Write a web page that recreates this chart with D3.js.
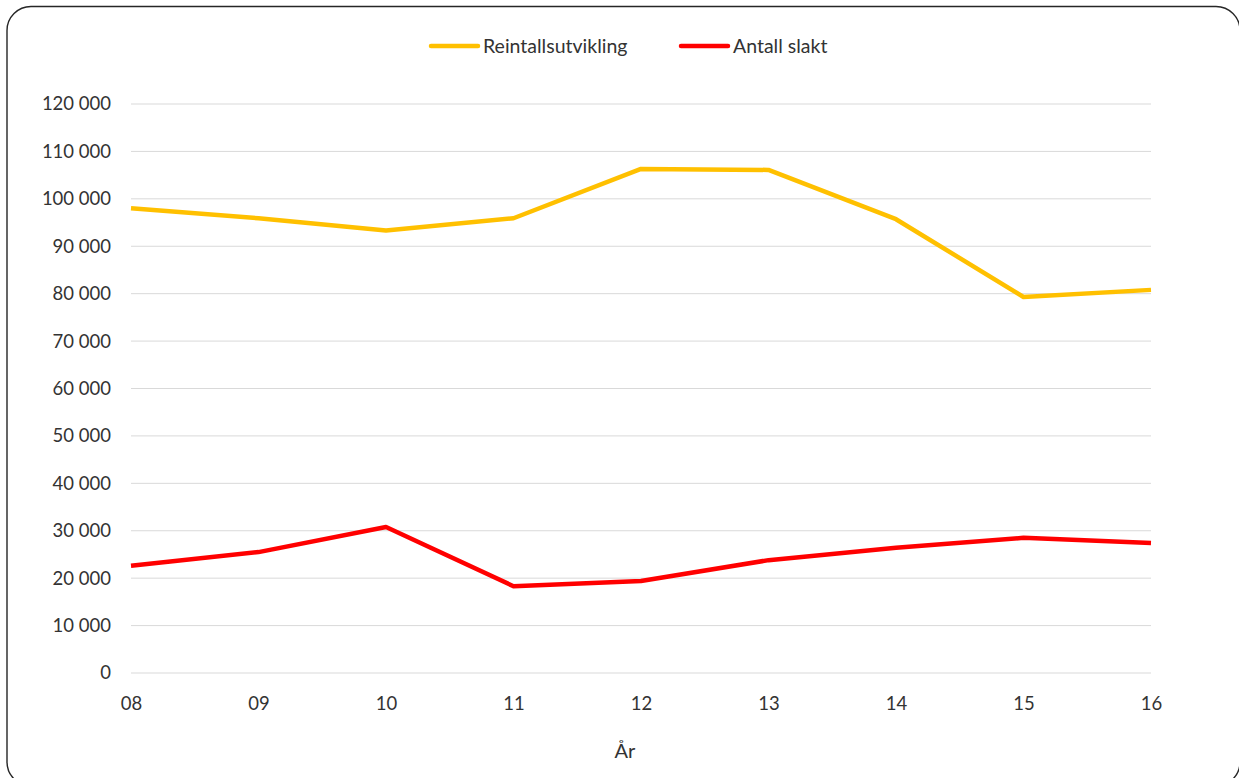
<!DOCTYPE html>
<html>
<head>
<meta charset="utf-8">
<script src="https://cdn.jsdelivr.net/npm/d3@7"></script>
<style>
  html, body { margin: 0; padding: 0; background: #fff; overflow: hidden; }
  svg { display: block; }
  text { font-family: Lato, "Open Sans", sans-serif; }
</style>
</head>
<body>
<svg id="chart" width="1239" height="778"></svg>
<script>
// Year labels along the x axis
const years = ["08", "09", "10", "11", "12", "13", "14", "15", "16"];
// Reindeer population development
const reintall = [98000, 95900, 93300, 95900, 106300, 106100, 95700, 79300, 80800];
// Number slaughtered
const slakt = [22600, 25500, 30800, 18300, 19400, 23800, 26400, 28500, 27400];
// Y tick values
const yTicks = [0, 10000, 20000, 30000, 40000, 50000, 60000, 70000, 80000, 90000, 100000, 110000, 120000];

const seriesNames = ["Reintallsutvikling", "Antall slakt"];
const seriesColors = ["#FFC000", "#FF0000"];

const svg = d3.select("#chart");

// rounded outer frame (runs slightly past the right and bottom edges)
svg.append("rect")
  .attr("x", 7).attr("y", 6.5)
  .attr("width", 1240 - 7).attr("height", 786 - 6.5)
  .attr("rx", 24).attr("ry", 24)
  .attr("fill", "#fff")
  .attr("stroke", "#262626").attr("stroke-width", 1.4);

const plot = { left: 131, right: 1151, top: 104, bottom: 673 };

const x = d3.scalePoint().domain(years).range([plot.left, plot.right]);
const y = d3.scaleLinear().domain([0, 120000]).range([plot.bottom, plot.top]);

// gridlines
svg.append("g").selectAll("line")
  .data(yTicks)
  .join("line")
  .attr("x1", plot.left).attr("x2", plot.right)
  .attr("y1", d => y(d)).attr("y2", d => y(d))
  .attr("stroke", "#d9d9d9").attr("stroke-width", 1);

// y axis labels, space as thousands separator
const yAxis = d3.axisLeft(y).tickValues(yTicks).tickSize(0).tickPadding(20)
  .tickFormat(d => d3.format(",")(d).replace(/,/g, " "));
svg.append("g")
  .attr("transform", `translate(${plot.left},0)`)
  .call(yAxis)
  .call(g => g.select(".domain").remove())
  .call(g => g.selectAll("text")
    .attr("fill", "#333333").attr("font-size", 18.5)
    .attr("font-family", "Lato, 'Open Sans', sans-serif"));

// x axis labels
const xAxis = d3.axisBottom(x).tickSize(0).tickPadding(24);
svg.append("g")
  .attr("transform", `translate(0,${plot.bottom})`)
  .call(xAxis)
  .call(g => g.select(".domain").remove())
  .call(g => g.selectAll("text")
    .attr("fill", "#333333").attr("font-size", 18.5)
    .attr("font-family", "Lato, 'Open Sans', sans-serif"));

// x axis title
svg.append("text")
  .attr("x", (plot.left + plot.right) / 2 - 16).attr("y", 758)
  .attr("text-anchor", "middle")
  .attr("fill", "#333333").attr("font-size", 20)
  .text("År");

// lines
const line = d3.line().x((d, i) => x(years[i])).y(d => y(d));
[reintall, slakt].forEach((data, k) => {
  svg.append("path")
    .datum(data)
    .attr("d", line)
    .attr("fill", "none")
    .attr("stroke", seriesColors[k])
    .attr("stroke-width", 4.5)
    .attr("stroke-linejoin", "round");
});

// legend
const legendX = [431, 681];
seriesNames.forEach((name, k) => {
  const g = svg.append("g").attr("transform", `translate(${legendX[k]},46)`);
  g.append("line")
    .attr("x1", 0).attr("x2", 47).attr("y1", 0).attr("y2", 0)
    .attr("stroke", seriesColors[k]).attr("stroke-width", 4.5)
    .attr("stroke-linecap", "round");
  g.append("text")
    .attr("x", 52).attr("y", 7)
    .attr("fill", "#333333").attr("font-size", 19.5)
    .text(name);
});
</script>
</body>
</html>
